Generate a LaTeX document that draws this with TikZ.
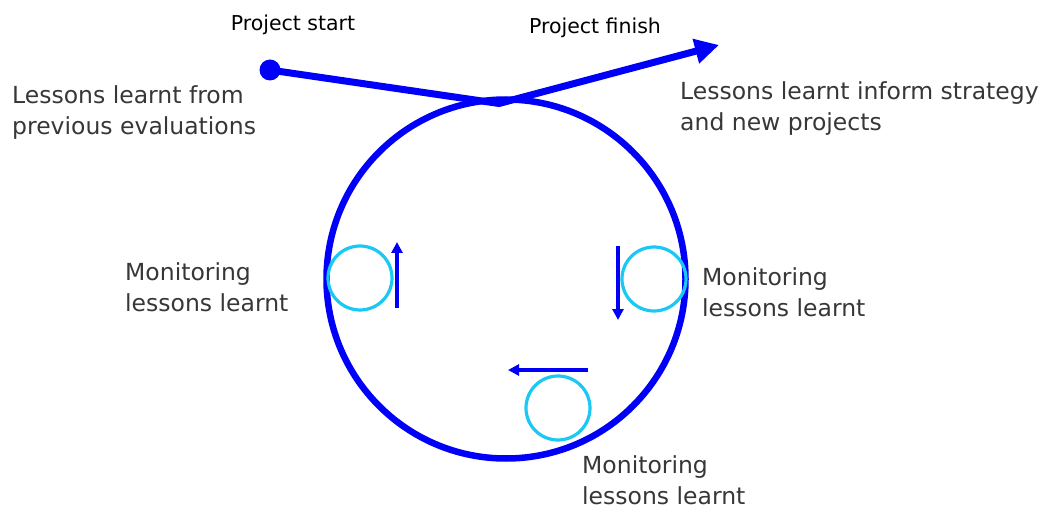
\documentclass[tikz,border=0pt]{standalone}
\usepackage{fontspec}
\setmainfont{DejaVu Sans}
\usetikzlibrary{arrows.meta}
\definecolor{mainblue}{RGB}{0,0,250}
\definecolor{lightcyan}{RGB}{26,200,245}
\definecolor{txtgrey}{RGB}{55,55,55}
\tikzset{
  label text/.style={anchor=north west,inner sep=0pt,align=left,text=txtgrey,font=\fontsize{23.5}{31}\selectfont},
  title text/.style={anchor=base,inner sep=0pt,text=black,font=\fontsize{20.5}{24}\selectfont},
  small circ/.style={circle,draw=lightcyan,line width=3.2pt,minimum size=64pt,inner sep=0pt},
  small arrow/.style={draw=mainblue,line width=4pt,-{Triangle[length=11pt,width=11pt]}},
}
\begin{document}
\begin{tikzpicture}[x=1pt,y=-1pt]
\useasboundingbox (0,0) rectangle (1039,513);
% big circle
\node[circle,draw=mainblue,line width=6.5pt,minimum size=359pt,inner sep=0pt] (big) at (506,279) {};
% start dot
\node[circle,fill=mainblue,minimum size=21pt,inner sep=0pt] (start) at (270,70) {};
\coordinate (meet) at (499,103.5);
\coordinate (finish) at (719,45);
\draw[mainblue,line width=7pt,line join=round,-{Triangle[length=24pt,width=24pt]}] (start.center) -- (meet) -- (finish);
% small circles
\node[small circ] (cl) at (360,278) {};
\node[small circ] (cr) at (654,279) {};
\node[small circ] (cb) at (558,408) {};
% small arrows
\coordinate (la) at (397,308); \coordinate (lb) at (397,242);
\coordinate (ra) at (618,246); \coordinate (rb) at (618,320);
\coordinate (ba) at (588,370); \coordinate (bb) at (508,370);
\draw[small arrow] (la) -- (lb);
\draw[small arrow] (ra) -- (rb);
\draw[small arrow] (ba) -- (bb);
% texts
\node[title text] (tstart) at (293,31) {Project start};
\node[title text] (tfinish) at (595,34) {Project finish};
\node[label text] (tprev) at (12,85) {Lessons learnt from\\previous evaluations};
\node[label text] (tinform) at (680,81) {Lessons learnt inform strategy\\and new projects};
\node[label text] (tml) at (125,262) {Monitoring\\lessons learnt};
\node[label text] (tmr) at (702,267) {Monitoring\\lessons learnt};
\node[label text] (tmb) at (582,455) {Monitoring\\lessons learnt};
\end{tikzpicture}
\end{document}
